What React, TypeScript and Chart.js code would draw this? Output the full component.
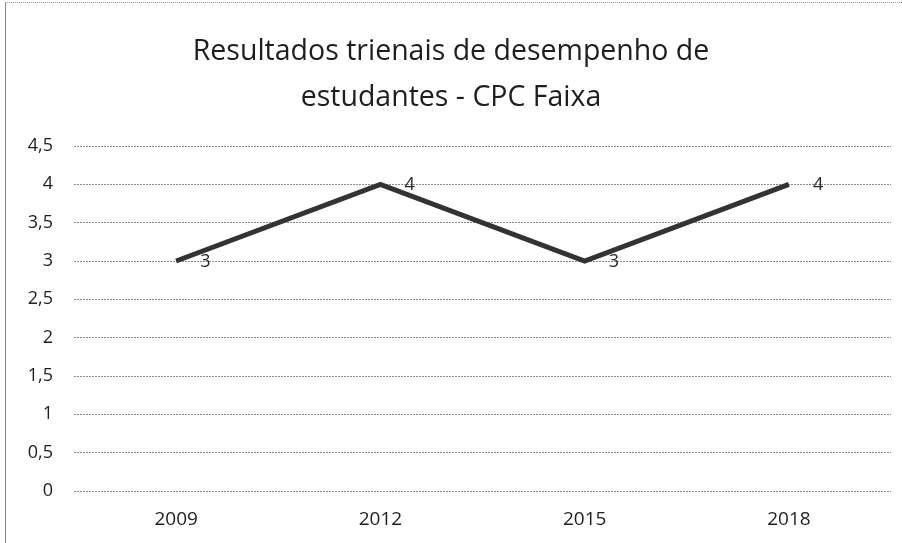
import React, { useEffect, useRef } from "react";
import { Chart, registerables } from "chart.js";

Chart.register(...registerables);

const categories = ["2009", "2012", "2015", "2018"];
const seriesValues = [3, 4, 3, 4];
const yTicks = [0, 0.5, 1, 1.5, 2, 2.5, 3, 3.5, 4, 4.5];
const titleLines = ["Resultados trienais de desempenho de", "estudantes - CPC Faixa"];

const FONT = "'Open Sans', 'Noto Sans', sans-serif";

const labelPlugin = {
  id: "pointLabels",
  afterDatasetsDraw(chart: any) {
    const ctx = chart.ctx;
    const meta = chart.getDatasetMeta(0);
    ctx.save();
    ctx.font = `18px ${FONT}`;
    ctx.fillStyle = "#2a2a2a";
    ctx.textAlign = "left";
    ctx.textBaseline = "middle";
    meta.data.forEach((pt: any, i: number) => {
      const v = chart.data.datasets[0].data[i];
      ctx.fillText(String(v).replace(".", ","), pt.x + 24, pt.y + 1);
    });
    ctx.restore();
  },
};

const titlePlugin = {
  id: "customTitle",
  afterDraw(chart: any) {
    const ctx = chart.ctx;
    ctx.save();
    ctx.font = `28.5px ${FONT}`;
    ctx.fillStyle = "#1e1e1e";
    ctx.textAlign = "center";
    ctx.textBaseline = "middle";
    titleLines.forEach((line, i) => {
      ctx.fillText(line, 451, 52 + i * 46);
    });
    ctx.restore();
  },
};

export default function App() {
  const ref = useRef<HTMLCanvasElement>(null);
  useEffect(() => {
    if (!ref.current) return;
    const chart = new Chart(ref.current, {
      type: "line",
      data: {
        labels: categories,
        datasets: [
          {
            data: seriesValues,
            borderColor: "#333333",
            borderWidth: 5,
            pointRadius: 0,
            tension: 0,
          },
        ],
      },
      plugins: [labelPlugin, titlePlugin],
      options: {
        animation: false,
        responsive: false,
        layout: { padding: { left: 0, right: 11, top: 146, bottom: 0 } },
        plugins: {
          legend: { display: false },
          tooltip: { enabled: false },
          title: { display: false },
        },
        scales: {
          x: {
            type: "category",
            offset: true,
            grid: { display: false, drawTicks: false },
            border: { display: false },
            ticks: { color: "#1e1e1e", font: { family: FONT, size: 19 }, padding: 17 },
            afterFit: (s: any) => {
              s.height = 52;
            },
          },
          y: {
            min: 0,
            max: 4.5,
            afterBuildTicks: (s: any) => {
              s.ticks = yTicks.map((v) => ({ value: v }));
            },
            grid: { color: "#8c8c8c", drawTicks: false, lineWidth: 1 },
            border: { display: false, dash: [2, 1] },
            ticks: {
              color: "#1e1e1e",
              font: { family: FONT, size: 18 },
              padding: 21,
              callback: (v: any) => String(v).replace(".", ","),
            },
            afterFit: (s: any) => {
              s.width = 74;
            },
          },
        },
      },
    });
    return () => chart.destroy();
  }, []);
  return (
    <div style={{ position: "fixed", left: 0, top: 0, width: 902, height: 543, background: "#fff" }}>
      <canvas ref={ref} width={902} height={543} style={{ display: "block" }} />
      <div
        style={{
          position: "absolute",
          left: 5,
          top: 2,
          width: 897,
          height: 541,
          borderTop: "1px dotted #999",
          borderLeft: "1px solid #888",
          boxSizing: "border-box",
          pointerEvents: "none",
        }}
      />
    </div>
  );
}
